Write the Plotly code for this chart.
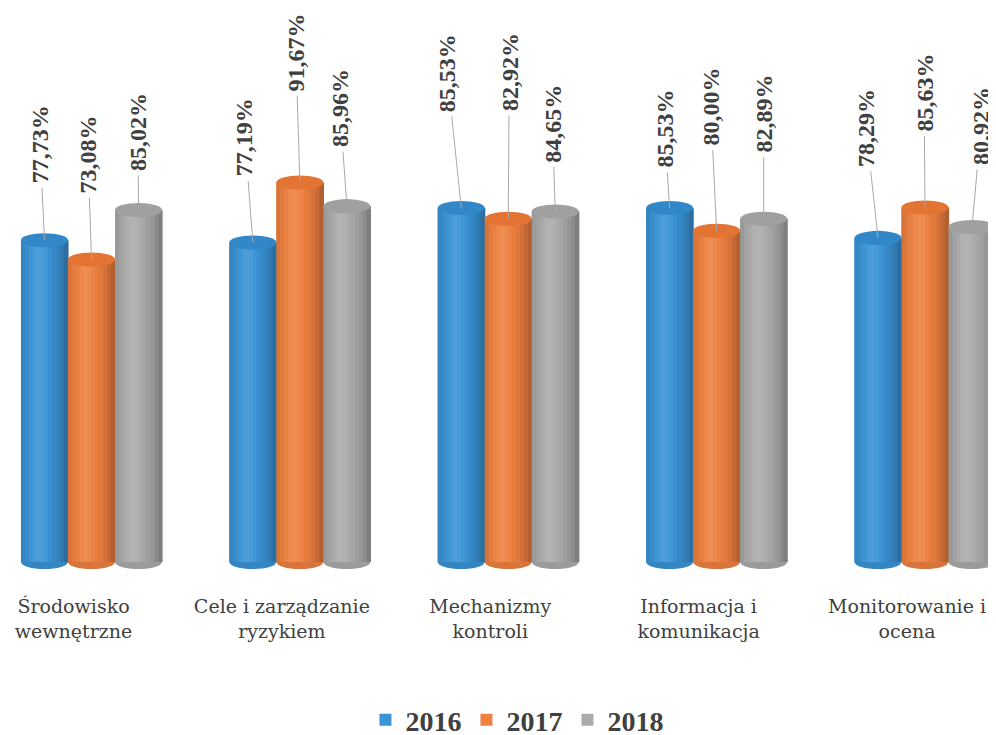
import plotly.graph_objects as go

# ---------------- data ----------------
categories = [
    "Środowisko<br>wewnętrzne",
    "Cele i zarządzanie<br>ryzykiem",
    "Mechanizmy<br>kontroli",
    "Informacja i<br>komunikacja",
    "Monitorowanie i<br>ocena",
]
years = ["2016", "2017", "2018"]
v2016 = [77.73, 77.19, 85.53, 85.53, 78.29]
v2017 = [73.08, 91.67, 82.92, 80.00, 85.63]
v2018 = [85.02, 85.96, 84.65, 82.89, 80.92]

# ---------------- style ----------------
colors = ["#3a94d6", "#ef8140", "#ababab"]
base_rgb = [(58, 148, 214), (239, 129, 64), (171, 171, 171)]
top_colors = ["#3287c8", "#e37434", "#a0a0a0"]
# pixel offsets of the value labels from the bar tops (label placement)
label_dx = [[-4.5, -8, -14, -5, -12], [-3.5, -4, 1, -6, -1], [-0.5, -7, -3, 0, 9]]
label_dy = [[-96, -105, -135, -79, -110], [-105, -130, -147, -124, -115], [-78, -98, -88, -105, -101]]

BARGAP = 0.323
series = [v2016, v2017, v2018]
bw = (1 - BARGAP) / 3
ell = 1.7  # half height of cylinder cap ellipse, in axis units
NSTRIP = 12


def shade(rgb, t):
    # cylinder-like shading across the bar width (t in 0..1)
    dark = 0.20 * abs(2 * t - 0.8) ** 2.2
    light = 0.10 * pow(2.718, -((t - 0.38) / 0.16) ** 2)
    r, g, b = rgb
    r = r * (1 - dark) + (255 - r) * light
    g = g * (1 - dark) + (255 - g) * light
    b = b * (1 - dark) + (255 - b) * light
    return f"rgb({int(r)},{int(g)},{int(b)})"


fig = go.Figure()
for k, (name, vals) in enumerate(zip(years, series)):
    fig.add_trace(go.Bar(
        x=categories, y=vals, name=name,
        marker=dict(color=colors[k], line=dict(width=0)),
        hoverinfo="skip",
    ))

shapes = []
annotations = []
for k, vals in enumerate(series):
    for i, v in enumerate(vals):
        xc = i + (k - 1) * bw
        x0, x1 = xc - bw / 2, xc + bw / 2
        # bottom cap
        shapes.append(dict(type="circle", xref="x", yref="y", x0=x0, x1=x1,
                           y0=-ell, y1=ell, fillcolor=shade(base_rgb[k], 0.75),
                           line=dict(width=0), layer="below"))
        # shaded body
        sw = bw / NSTRIP
        for j in range(NSTRIP):
            t = (j + 0.5) / NSTRIP
            shapes.append(dict(type="rect", xref="x", yref="y",
                               x0=x0 + j * sw, x1=x0 + (j + 1) * sw + sw * 0.15,
                               y0=0, y1=v, fillcolor=shade(base_rgb[k], t),
                               line=dict(width=0), layer="above"))
        # top cap
        shapes.append(dict(type="circle", xref="x", yref="y", x0=x0, x1=x1,
                           y0=v - ell, y1=v + ell, fillcolor=top_colors[k],
                           line=dict(width=0), layer="above"))
        annotations.append(dict(
            x=xc, y=v, xref="x", yref="y",
            text=f"{v:.2f}".replace(".", ",") + "%",
            textangle=-90, showarrow=True, arrowhead=0, arrowwidth=1,
            arrowcolor="#a8a8a8", ax=label_dx[k][i], ay=label_dy[k][i],
            standoff=0, startstandoff=3,
            font=dict(family="Liberation Serif", size=24, color="#404040", weight="bold"),
        ))

fig.update_layout(
    width=996, height=735,
    margin=dict(l=0, r=0, t=0, b=168, autoexpand=False),
    paper_bgcolor="white", plot_bgcolor="white",
    barmode="group", bargap=BARGAP, bargroupgap=0,
    shapes=shapes, annotations=annotations,
    showlegend=True,
    legend=dict(orientation="h", x=0.511, xanchor="center", y=-0.256, yanchor="middle",
                font=dict(family="Liberation Serif", size=28, color="#404040", weight="bold"),
                itemwidth=30, traceorder="normal"),
    xaxis=dict(range=[-0.4007, 4.379], showgrid=False, zeroline=False, showline=False,
               ticks="", ticklabelstandoff=18, ticklabelshift=-18, automargin=False,
               tickfont=dict(family="DejaVu Serif", size=19, color="#404040")),
    yaxis=dict(range=[-3.14, 133.82], visible=False, showgrid=False, zeroline=False,
               automargin=False),
)

fig.write_html("out.html")
